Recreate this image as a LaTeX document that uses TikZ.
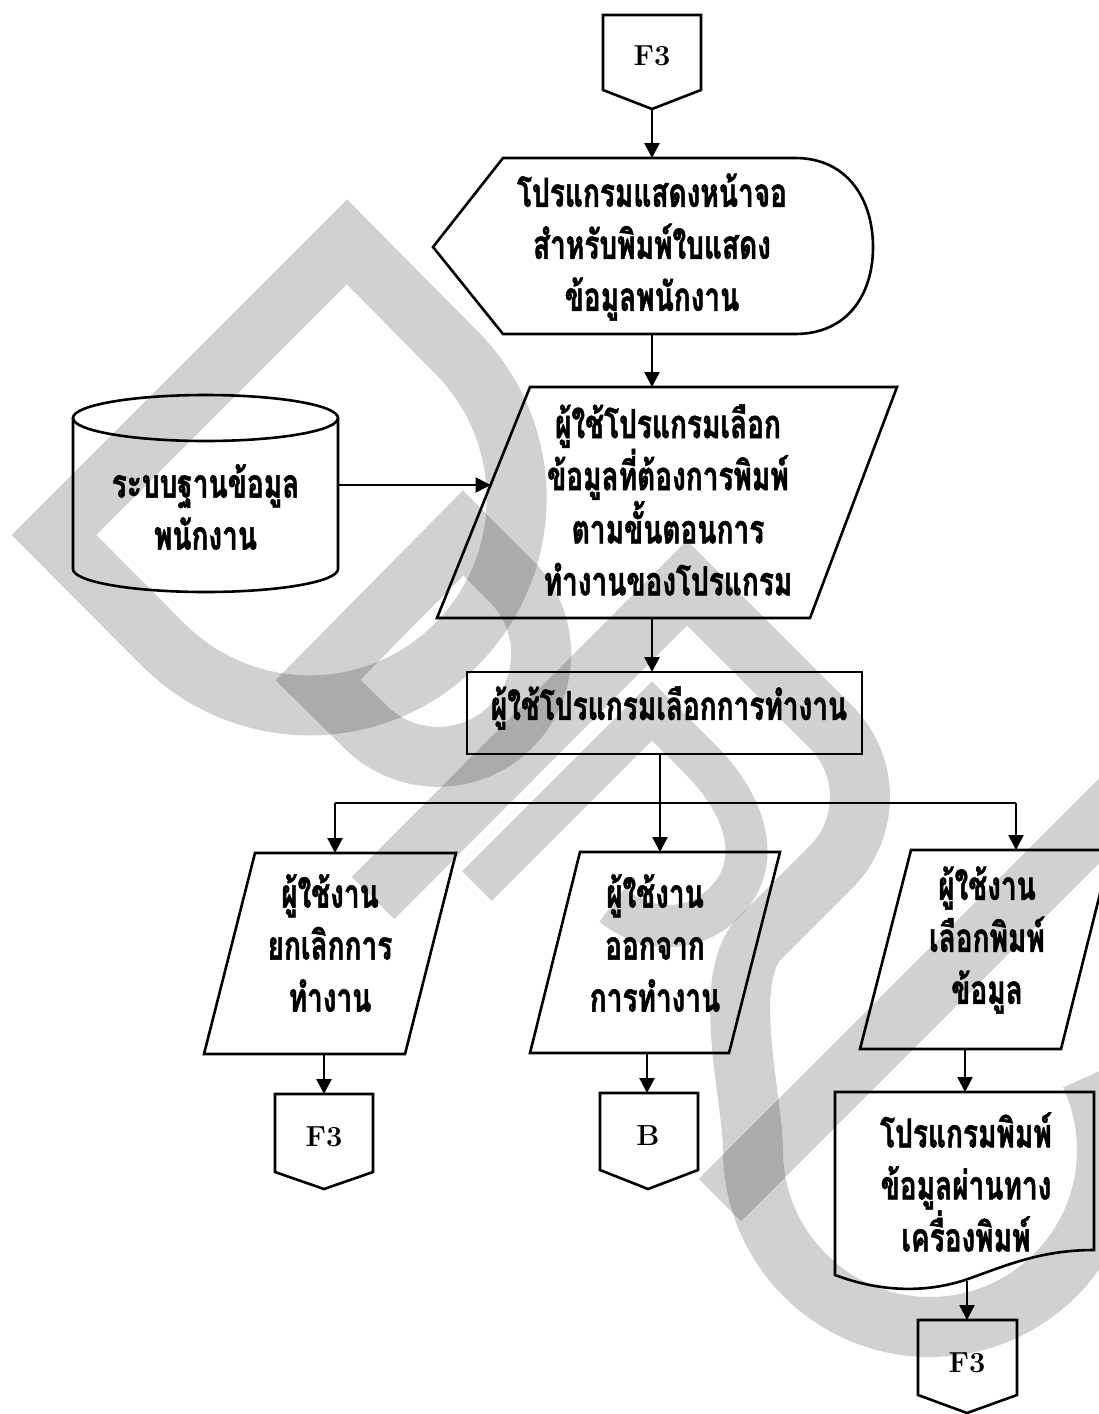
\documentclass[tikz,border=0pt]{standalone}
\usepackage{fontspec}
\newfontfamily\thaifont[Script=Thai,FakeStretch=0.7,BoldFeatures={FakeBold=1.2}]{Loma}
\usetikzlibrary{arrows.meta,calc}

\tikzset{
  outline/.style={line width=2.6pt, line join=miter},
  conn/.style={line width=2.4pt, -{Triangle[width=15pt,length=15pt]}},
  wire/.style={line width=2.4pt},
  thai/.style={font=\thaifont\bfseries\fontsize{40}{52}\selectfont, align=center, inner sep=0pt},
  lbl/.style={font=\bfseries\fontsize{29}{32}\selectfont, inner sep=0pt},
  wmark/.style={line width=60pt, draw=black, draw opacity=0.18, line join=miter, line cap=butt},
  wthin/.style={wmark, line width=42pt}
}

\begin{document}
\begin{tikzpicture}[x=1pt,y=-1pt]
\useasboundingbox (0,0) rectangle (1099,1414);
\clip (0,0) rectangle (1099,1414);

% background mark: drop shapes and the long S stroke
\draw[wmark] (54,535) -- (347,242) -- (456,352) arc[start angle=-45, end angle=135, radius=207] -- cycle;
\draw[wmark] (318,680) -- (463,533) -- (511,581) arc[start angle=-45, end angle=135, radius=103] -- cycle;
\draw[wmark] (373,898) -- (687,583) -- (831,727) arc[start angle=-45, end angle=45, radius=99]
  -- (760,938) .. controls (720,978) and (753,1100) .. (753,1150)
  arc[start angle=180, end angle=-25, radius=177];
\draw[wthin] (477,886) -- (652,711) -- (700,759)
  .. controls (745,804) and (765,862) .. (725,902)
  .. controls (695,932) and (650,935) .. (612,905);
\draw[wmark] (720,1200) -- (1130,790);

% top connector F3
\draw[outline] (603,15) -- (701,15) -- (701,90) -- (652,109) -- (603,90) -- cycle;
\node[lbl] (f3top) at (652,56) {F3};
\coordinate (f3top-out) at (652,109);

% display screen
\draw[outline] (433,247) -- (503,158) -- (795,158)
  .. controls (848,158) and (873,200) .. (873,247)
  .. controls (873,294) and (848,334) .. (795,334) -- (503,334) -- cycle;
\node[thai] (disp) at (652,247) {โปรแกรมแสดงหน้าจอ\\สำหรับพิมพ์ใบแสดง\\ข้อมูลพนักงาน};
\coordinate (disp-in) at (652,158);
\coordinate (disp-out) at (652,334);

% user selects data
\draw[outline] (530,387) -- (897,387) -- (810,618) -- (437,618) -- cycle;
\node[thai] (sel) at (668,500) {ผู้ใช้โปรแกรมเลือก\\ข้อมูลที่ต้องการพิมพ์\\ตามขั้นตอนการ\\ทำงานของโปรแกรม};
\coordinate (sel-in) at (652,387);
\coordinate (sel-left) at (490.6,485);
\coordinate (sel-out) at (652,618);

% employee database
\draw[outline] (205.5,418) ellipse[x radius=132.5, y radius=23];
\draw[outline] (73,418) -- (73,569) arc[start angle=180, end angle=0, x radius=132.5, y radius=23] -- (338,418);
\node[thai] (db) at (205.5,507) {ระบบฐานข้อมูล\\พนักงาน};
\coordinate (db-out) at (338,485);

% choose action
\draw[outline] (467,672) rectangle (862,754);
\node[thai] (act) at (669,708) {ผู้ใช้โปรแกรมเลือกการทำงาน};
\coordinate (act-in) at (652,672);
\coordinate (act-out) at (660,754);

% three choices
\draw[outline] (255,853) -- (456,853) -- (405,1054) -- (204,1054) -- cycle;
\node[thai] (cancel) at (330,943) {ผู้ใช้งาน\\ยกเลิกการ\\ทำงาน};
\coordinate (cancel-in) at (335,853);
\coordinate (cancel-out) at (324,1054);

\draw[outline] (580,852) -- (780,852) -- (729,1053) -- (530,1053) -- cycle;
\node[thai] (quit) at (655,943) {ผู้ใช้งาน\\ออกจาก\\การทำงาน};
\coordinate (quit-in) at (660,852);
\coordinate (quit-out) at (647,1053);

\draw[outline] (911,850) -- (1111,850) -- (1061,1049) -- (860,1049) -- cycle;
\node[thai] (print) at (987,940) {ผู้ใช้งาน\\เลือกพิมพ์\\ข้อมูล};
\coordinate (print-in) at (1016,850);
\coordinate (print-out) at (965,1049);

\coordinate (left-corner) at (335,803);
\coordinate (right-corner) at (1016,803);

% off-page connectors below the choices
\draw[outline] (275,1094) -- (373,1094) -- (373,1172) -- (324,1189) -- (275,1172) -- cycle;
\node[lbl] (f3left) at (324,1137) {F3};
\coordinate (f3left-in) at (324,1094);

\draw[outline] (600,1093) -- (698,1093) -- (698,1170) -- (648,1189) -- (600,1170) -- cycle;
\node[lbl] (back) at (648,1136) {B};
\coordinate (back-in) at (647,1093);

% printed document
\draw[outline] (835,1092) -- (1094,1092) -- (1094,1250)
  .. controls (1040,1250) and (1005,1266) .. (965,1280)
  .. controls (925,1293) and (880,1292) .. (835,1275) -- cycle;
\node[thai] (doc) at (966,1182) {โปรแกรมพิมพ์\\ข้อมูลผ่านทาง\\เครื่องพิมพ์};
\coordinate (doc-in) at (965,1092);
\coordinate (doc-out) at (967,1281);

\draw[outline] (918,1320) -- (1017,1320) -- (1017,1395) -- (967,1413) -- (918,1395) -- cycle;
\node[lbl] (f3right) at (967,1363) {F3};
\coordinate (f3right-in) at (967,1320);

% connectors
\draw[conn] (f3top-out) -- (disp-in);
\draw[conn] (disp-out) -- (sel-in);
\draw[conn] (db-out) -- (sel-left);
\draw[conn] (sel-out) -- (act-in);
\draw[conn] (act-out) -- (quit-in);
\draw[wire] (left-corner) -- (right-corner);
\draw[conn] (left-corner) -- (cancel-in);
\draw[conn] (right-corner) -- (print-in);
\draw[conn] (cancel-out) -- (f3left-in);
\draw[conn] (quit-out) -- (back-in);
\draw[conn] (print-out) -- (doc-in);
\draw[conn] (doc-out) -- (f3right-in);
\end{tikzpicture}
\end{document}
